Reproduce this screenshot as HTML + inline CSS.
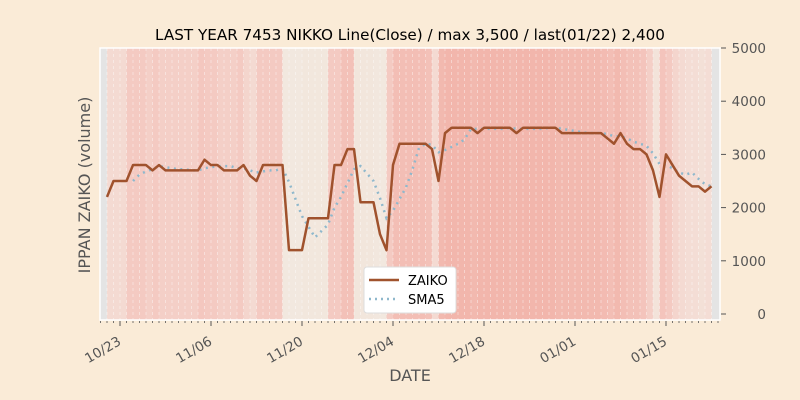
<!DOCTYPE html>
<html><head><meta charset="utf-8"><style>
body{margin:0;background:#faebd7;}
svg{display:block;font-family:"DejaVu Sans","Liberation Sans",sans-serif;}
</style></head><body>
<svg id="chart" width="800" height="400">
<rect width="800" height="400" fill="#faebd7"/>
<text x="410" y="40" font-size="15.2" text-anchor="middle" fill="#000">LAST YEAR 7453 NIKKO Line(Close) / max 3,500 / last(01/22) 2,400</text>
<g id="bands"></g>
<g id="grid"></g>
<rect x="100" y="48" width="620" height="272" fill="none" stroke="#fff" stroke-width="1.5"/>
<g id="xaxis"></g>
<g id="yaxis"></g>
<g id="series"></g>
<text x="90" y="185" font-size="16" fill="#555" text-anchor="middle" transform="rotate(-90 90 185)">IPPAN ZAIKO (volume)</text>
<text x="410" y="381" font-size="16" fill="#555" text-anchor="middle">DATE</text>
<g>
<rect x="364" y="267" width="92" height="46" rx="3" fill="#fff" stroke="#ddd"/>
<line x1="369" y1="280" x2="399" y2="280" stroke="#a0522d" stroke-width="2.5"/>
<text x="408" y="285" font-size="13" fill="#000">ZAIKO</text>
<line x1="369" y1="299" x2="399" y2="299" stroke="#8fb8cc" stroke-width="2.5" stroke-dasharray="2 4"/>
<text x="408" y="304" font-size="13" fill="#000">SMA5</text>
</g>
</svg>
<script>
const startDate = "2024-10-21";
const zaiko = [2200,2500,2500,2500,2800,2800,2800,2700,2800,2700,2700,2700,2700,2700,2700,2900,2800,2800,2700,2700,2700,2800,2600,2500,2800,2800,2800,2800,1200,1200,1200,1800,1800,1800,1800,2800,2800,3100,3100,2100,2100,2100,1500,1200,2800,3200,3200,3200,3200,3200,3100,2500,3400,3500,3500,3500,3500,3400,3500,3500,3500,3500,3500,3400,3500,3500,3500,3500,3500,3500,3400,3400,3400,3400,3400,3400,3400,3300,3200,3400,3200,3100,3100,3000,2700,2200,3000,2800,2600,2500,2400,2400,2300,2400];
const xTickLabels = ["10/23","11/06","11/20","12/04","12/18","01/01","01/15"];
const yTicks = [0,1000,2000,3000,4000,5000];

const NS="http://www.w3.org/2000/svg";
const X0=107, DX=6.5, Y0=314, YK=266/5000;
const x=i=>X0+i*DX;
const y=v=>Y0-v*YK;
function mk(tag,attrs,parent){const e=document.createElementNS(NS,tag);for(const k in attrs)e.setAttribute(k,attrs[k]);parent.appendChild(e);return e;}
const start=new Date(startDate+"T00:00:00");
function dayIndex(lbl){const [m,d]=lbl.split("/").map(Number);let yr=start.getFullYear();if(m<start.getMonth()+1)yr++;return Math.round((new Date(yr,m-1,d)-start)/86400000);}
function bandColor(v){
  const stops=[[1200,[242,232,223]],[2100,[242,230,220]],[2500,[244,218,210]],[2800,[244,202,194]],[3200,[243,190,181]],[3500,[242,182,172]]];
  if(v<=stops[0][0])return stops[0][1];
  for(let k=1;k<stops.length;k++){if(v<=stops[k][0]){const a=stops[k-1],b=stops[k];const t=(v-a[0])/(b[0]-a[0]);return a[1].map((c,j)=>Math.round(c+(b[1][j]-c)*t));}}
  return stops[stops.length-1][1];
}
const bands=document.getElementById('bands');
let r=mk('rect',{x:100,y:48,width:x(0)-100,height:272,fill:'#e4e4e4'},bands);


r=mk('rect',{x:x(zaiko.length-1),y:48,width:720-x(zaiko.length-1),height:272,fill:'#e4e4e4'},bands);


for(let i=1;i<zaiko.length;i++){
  const c=bandColor(zaiko[i]);
  const b=mk('rect',{x:x(i-1),y:48,width:DX+0.3,height:272,fill:`rgb(${c.join(',')})`},bands);
  
  
}
const grid=document.getElementById('grid');
for(let i=0;i<zaiko.length;i++){
  const g=mk('line',{x1:x(i),x2:x(i),y1:48,y2:320,stroke:'#fff','stroke-opacity':0.5,'stroke-dasharray':'3 3','stroke-width':0.8},grid);
  
  
}
const xa=document.getElementById('xaxis');
for(let i=-1;i<=zaiko.length;i++){
  const t=mk('line',{x1:x(i),x2:x(i),y1:321,y2:323,stroke:'#555','stroke-width':0.8},xa);
  
  
}
xTickLabels.forEach(l=>{
  const xi=x(dayIndex(l));
  const t=mk('line',{x1:xi,x2:xi,y1:321,y2:326,stroke:'#555','stroke-width':1},xa);
  
  
  const tx=mk('text',{x:xi+2,y:344,'font-size':13.5,fill:'#555','text-anchor':'end',transform:`rotate(-30 ${xi+2} 344)`},xa);
  tx.textContent=l;
  
  
});
const ya=document.getElementById('yaxis');
yTicks.forEach(v=>{
  const t=mk('line',{x1:721,x2:726,y1:y(v),y2:y(v),stroke:'#555'},ya);
  
  
  const tx=mk('text',{x:766,y:y(v)+5,'font-size':13.5,fill:'#555','text-anchor':'end'},ya);
  tx.textContent=v;
  
  
});
const se=document.getElementById('series');
const sma=[];
for(let i=4;i<zaiko.length;i++){let s=0;for(let k=i-4;k<=i;k++)s+=zaiko[k];sma.push([i,s/5]);}
const sp=mk('polyline',{points:sma.map(([i,v])=>x(i)+','+y(v)).join(' '),fill:'none',stroke:'#8fb8cc','stroke-width':2.5,'stroke-dasharray':'2 4.5'},se);


const zp=mk('polyline',{points:zaiko.map((v,i)=>x(i)+','+y(v)).join(' '),fill:'none',stroke:'#a0522d','stroke-width':2.5,'stroke-linejoin':'round'},se);


</script>
</body></html>
